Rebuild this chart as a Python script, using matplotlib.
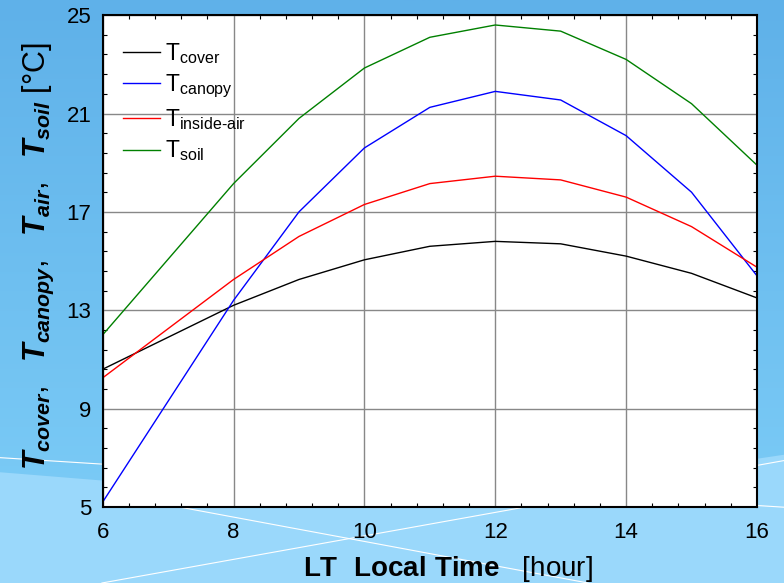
import numpy as np
import matplotlib
matplotlib.use("Agg")
from matplotlib import pyplot as plt

plt.rcParams['font.family'] = ['Liberation Sans', 'DejaVu Sans']
plt.rcParams['mathtext.fontset'] = 'custom'
plt.rcParams['mathtext.rm'] = 'Liberation Sans'
plt.rcParams['mathtext.it'] = 'Liberation Sans:italic:bold'
plt.rcParams['mathtext.bf'] = 'Liberation Sans:bold'

# local time [hour]
hours = [6, 8, 9, 10, 11, 12, 13, 14, 15, 16]
t_cover = [10.6, 13.2, 14.25, 15.05, 15.6, 15.8, 15.7, 15.2, 14.5, 13.5]
t_canopy = [5.2, 13.4, 17.0, 19.6, 21.25, 21.9, 21.55, 20.1, 17.8, 14.4]
t_air = [10.25, 14.25, 16.0, 17.3, 18.15, 18.45, 18.3, 17.6, 16.4, 14.75]
t_soil = [12.0, 18.15, 20.8, 22.85, 24.1, 24.6, 24.35, 23.2, 21.4, 18.9]

x_ticks = [6, 8, 10, 12, 14, 16]
y_ticks = [5, 9, 13, 17, 21, 25]

fig = plt.figure(figsize=(7.84, 5.83), dpi=100)

# slide-like blue background
bg = fig.add_axes([0, 0, 1, 1], zorder=-10)
grad = np.linspace(0, 1, 200).reshape(-1, 1)
top = np.array([0x5f, 0xb1, 0xe9]) / 255
bot = np.array([0x7f, 0xcf, 0xf8]) / 255
img = top + (bot - top) * grad[..., None]
bg.imshow(img, aspect='auto', extent=[0, 1, 0, 1], origin='upper')
bg.fill([0, 0, 0.55, 1, 1], [0, 0.19, 0.13, 0.22, 0], color='#9ad8fb', lw=0)
bg.plot([0, 1], [0.215, 0.13], color='white', lw=0.8)
bg.plot([0.13, 1], [0.0, 0.21], color='white', lw=0.8)
bg.plot([0.15, 0.75], [0.15, 0.0], color='white', lw=0.8)
bg.set_xlim(0, 1)
bg.set_ylim(0, 1)
bg.axis('off')

ax = fig.add_axes([0.131, 0.1305, 0.8345, 0.8435])
ax.set_facecolor('white')
ax.plot(hours, t_cover, color='black', lw=1, label=r'$\mathrm{T_{cover}}$')
ax.plot(hours, t_canopy, color='blue', lw=1, label=r'$\mathrm{T_{canopy}}$')
ax.plot(hours, t_air, color='red', lw=1, label=r'$\mathrm{T}_{\text{inside-air}}$')
ax.plot(hours, t_soil, color='green', lw=1, label=r'$\mathrm{T_{soil}}$')

ax.set_xlim(6, 16)
ax.set_ylim(5, 25)
ax.set_xticks(x_ticks)
ax.set_yticks(y_ticks)
ax.set_xticks(np.arange(6, 16.01, 0.4), minor=True)
ax.set_yticks(np.arange(5, 25.01, 0.8), minor=True)
ax.tick_params(which='both', direction='in', top=True, right=True,
               labelsize=16, pad=8)
ax.tick_params(axis='x', which='major', pad=11)
ax.tick_params(which='major', length=0)
ax.tick_params(which='minor', length=3, width=0.8)
ax.grid(True, which='major', color='#888888', lw=1)
for s in ax.spines.values():
    s.set_linewidth(1.5)

ax.set_xlabel(r'$\mathbf{LT\ \ Local\ Time}$   [hour]', fontsize=20)
ax.xaxis.set_label_coords(0.527, -0.095)
ax.set_ylabel(r'$T_{cover},\ \ T_{canopy},\ \ T_{air},\ \ T_{soil}$ [°C]',
              fontsize=22)
ax.yaxis.set_label_coords(-0.072, 0.51)

ax.legend(loc='upper left', frameon=False, fontsize=16.5, handlelength=1.6,
          handletextpad=0.2, labelspacing=0.3, bbox_to_anchor=(0.0, 0.99))

fig.savefig('out.png', dpi=100)
